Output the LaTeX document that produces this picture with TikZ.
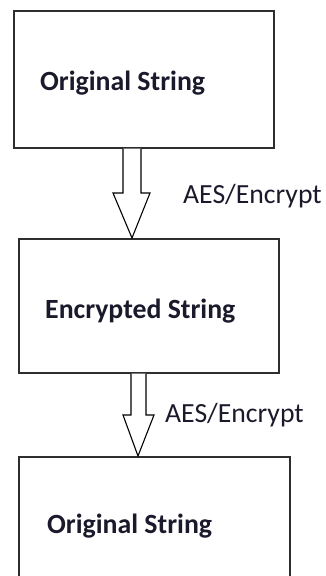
\documentclass[tikz,border=0pt]{standalone}
\usepackage{fontspec}
\setmainfont{Carlito}
\definecolor{inkdark}{HTML}{1A1A2C}
\definecolor{framegray}{HTML}{2E2E2E}
\begin{document}
\begin{tikzpicture}[x=1pt,y=-1pt,
  stringbox/.style={draw=framegray, line width=1.5pt, rectangle, anchor=north west, inner sep=0pt},
  boxtext/.style={anchor=base west, inner sep=0pt, text=inkdark, font=\fontsize{27.8}{32}\selectfont\bfseries},
  steplabel/.style={anchor=base west, inner sep=0pt, text=inkdark, font=\fontsize{27.7}{32}\selectfont},
  blockarrow/.style={draw=black, line width=1.1pt, fill=white, line join=miter}]
\useasboundingbox (0,0) rectangle (326,576);

% the three stages
\node (b1) [stringbox, minimum width=260pt, minimum height=137pt] at (13,10) {};
\node (b2) [stringbox, minimum width=260pt, minimum height=134pt] at (18,238) {};
\node (b3) [stringbox, minimum width=271pt, minimum height=160pt] at (18,456) {};

\node (t1) [boxtext] at (40,90) {Original String};
\node (t2) [boxtext] at (45,318) {Encrypted String};
\node (t3) [boxtext] at (47,533) {Original String};

% hollow block arrows between the stages
\draw[blockarrow] (b1.south -| 123,0) -- (123,193) -- (113,193)
  -- (b2.north -| 132,0) -- (150,193) -- (141,193) -- (b1.south -| 141,0);
\draw[blockarrow] (b2.south -| 131,0) -- (131,415) -- (123,415)
  -- (b3.north -| 138,0) -- (154,415) -- (146,415) -- (b2.south -| 146,0);

\node (l1) [steplabel] at (183,203) {AES/Encrypt};
\node (l2) [steplabel] at (165,422) {AES/Encrypt};
\end{tikzpicture}
\end{document}
